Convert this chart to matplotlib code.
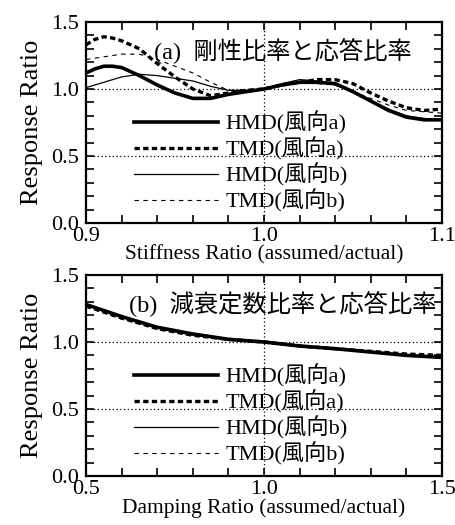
import matplotlib
matplotlib.use("Agg")
import matplotlib.pyplot as plt
from matplotlib.ticker import MultipleLocator

# ---- data (a) stiffness ratio ----
xa = [0.900, 0.905, 0.910, 0.915, 0.920, 0.930, 0.940, 0.950, 0.960, 0.970, 0.980, 0.990,
      1.000, 1.010, 1.020, 1.030, 1.040, 1.050, 1.060, 1.070, 1.080, 1.090, 1.100]
hmd_a = [1.12, 1.15, 1.17, 1.17, 1.16, 1.10, 1.03, 0.97, 0.93, 0.93, 0.96, 0.98,
         1.00, 1.03, 1.05, 1.05, 1.04, 0.98, 0.91, 0.84, 0.79, 0.77, 0.77]
tmd_a = [1.33, 1.37, 1.39, 1.38, 1.36, 1.30, 1.19, 1.09, 1.00, 0.95, 0.97, 0.99,
         1.00, 1.03, 1.05, 1.07, 1.07, 1.04, 0.97, 0.91, 0.86, 0.84, 0.85]
hmd_b = [1.01, 1.03, 1.05, 1.07, 1.09, 1.11, 1.10, 1.08, 1.06, 1.02, 0.99, 0.99,
         1.00, 1.04, 1.07, 1.06, 1.03, 0.98, 0.91, 0.85, 0.80, 0.78, 0.77]
tmd_b = [1.22, 1.23, 1.24, 1.25, 1.26, 1.26, 1.22, 1.17, 1.12, 1.05, 0.99, 0.99,
         1.00, 1.03, 1.05, 1.04, 1.03, 0.98, 0.93, 0.88, 0.84, 0.83, 0.82]

# ---- data (b) damping ratio ----
xb = [0.5, 0.6, 0.7, 0.8, 0.9, 1.0, 1.1, 1.2, 1.3, 1.4, 1.5]
hmd_a_b = [1.28, 1.19, 1.11, 1.06, 1.02, 1.00, 0.97, 0.95, 0.925, 0.90, 0.885]
tmd_a_b = [1.27, 1.18, 1.10, 1.05, 1.02, 1.00, 0.97, 0.95, 0.93, 0.91, 0.90]
hmd_b_b = [1.28, 1.19, 1.11, 1.06, 1.02, 1.00, 0.97, 0.95, 0.925, 0.90, 0.885]
tmd_b_b = [1.26, 1.17, 1.10, 1.05, 1.02, 1.00, 0.97, 0.95, 0.93, 0.905, 0.89]

labels = ["HMD(風向a)", "TMD(風向a)", "HMD(風向b)", "TMD(風向b)"]
styles = [dict(lw=2.6, ls="-"),
          dict(lw=2.4, ls=(0, (1.6, 1.0))),
          dict(lw=0.9, ls="-"),
          dict(lw=0.8, ls=(0, (4, 4)))]

FAM = ["Liberation Serif", "Noto Sans CJK JP"]
plt.rcParams["font.family"] = FAM

fig = plt.figure(figsize=(4.55, 5.25), dpi=100)
ax1 = fig.add_axes([86/455, 1-223/525, 356/455, 201/525])
ax2 = fig.add_axes([86/455, 1-476/525, 356/455, 201/525])

def setup(ax, xlim, xmin, xlabel, xdata, ys):
    for y, st, lab in zip(ys, styles, labels):
        ax.plot(xdata, y, color="black", label=lab, **st)
    ax.set_xlim(*xlim)
    ax.set_ylim(0, 1.5)
    mid = (xlim[0] + xlim[1]) / 2
    dot = (0, (1, 2))
    ax.axhline(0.5, color="black", lw=0.9, ls=dot, zorder=0)
    ax.axhline(1.0, color="black", lw=0.9, ls=dot, zorder=0)
    ax.axvline(mid, color="black", lw=0.9, ls=dot, zorder=0)
    ax.set_xticks([xlim[0], mid, xlim[1]])
    ax.set_xticklabels([f"{xlim[0]:.1f}", f"{mid:.1f}", f"{xlim[1]:.1f}"])
    ax.xaxis.set_minor_locator(MultipleLocator(xmin))
    ax.set_yticks([0, 0.5, 1.0, 1.5])
    ax.set_yticklabels(["0.0", "0.5", "1.0", "1.5"])
    ax.yaxis.set_minor_locator(MultipleLocator(0.1))
    ax.tick_params(which="both", direction="in", top=True, right=True, width=1.2)
    ax.tick_params(which="major", length=6, labelsize=16)
    ax.tick_params(axis="x", which="major", pad=3)
    ax.tick_params(axis="y", which="major", pad=5)
    ax.tick_params(which="minor", length=6)
    for s in ax.spines.values():
        s.set_linewidth(1.6)
    ax.set_xlabel(xlabel, fontsize=15.5, labelpad=-1)
    ax.set_ylabel("Response Ratio", fontsize=19, labelpad=6)
    ax.legend(loc="upper left", bbox_to_anchor=(0.11, 0.60), frameon=False,
              fontsize=16, handlelength=3.8, handletextpad=0.3,
              labelspacing=0.12, borderaxespad=0)

setup(ax1, (0.9, 1.1), 0.02, "Stiffness Ratio (assumed/actual)",
      xa, [hmd_a, tmd_a, hmd_b, tmd_b])
ax1.text(0.19, 0.86, "(a)  剛性比率と応答比率", transform=ax1.transAxes,
         fontsize=17.5, va="center", ha="left", family=FAM)

setup(ax2, (0.5, 1.5), 0.1, "Damping Ratio (assumed/actual)",
      xb, [hmd_a_b, tmd_a_b, hmd_b_b, tmd_b_b])
ax2.text(0.12, 0.86, "(b)  減衰定数比率と応答比率", transform=ax2.transAxes,
         fontsize=17.5, va="center", ha="left", family=FAM)

fig.savefig("out.png", dpi=100)
